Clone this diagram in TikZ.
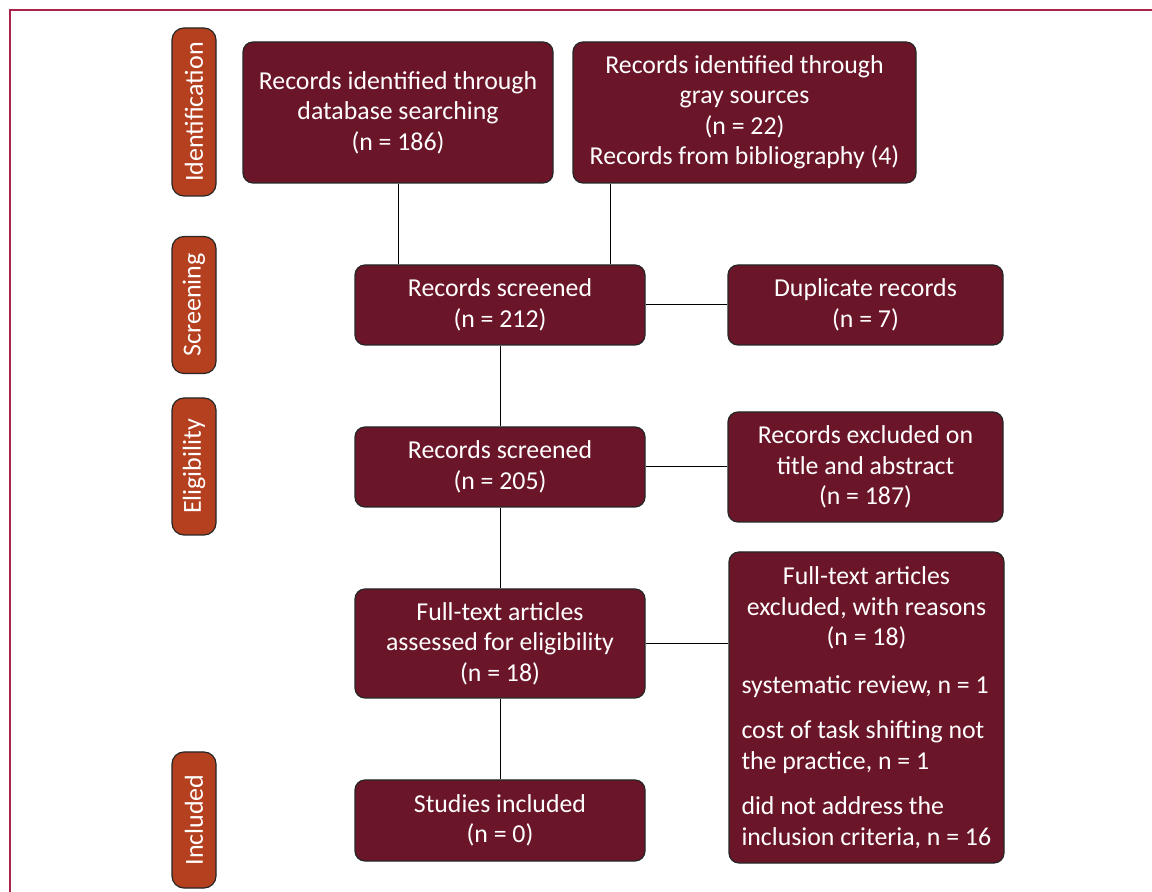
\documentclass[tikz,border=0pt]{standalone}
\usepackage{fontspec}
\setmainfont{Carlito}
\usetikzlibrary{calc}

\definecolor{boxred}{HTML}{6B1529}
\definecolor{tagred}{HTML}{B5401F}
\definecolor{framered}{HTML}{A8244A}

\tikzset{
  stagetag/.style={draw=black!85, fill=tagred, text=white, rotate=90,
    rounded corners=6pt, line width=0.6pt, minimum height=22pt, inner sep=0pt,
    font=\fontsize{13}{15.25}\selectfont},
  recbox/.style={draw=black!85, fill=boxred, text=white, align=center,
    rounded corners=5pt, line width=0.6pt, inner sep=0pt,
    font=\fontsize{12.9}{15.25}\selectfont},
  link/.style={draw=black, line width=0.5pt}
}

\begin{document}
\begin{tikzpicture}[x=0.5pt, y=-0.5pt]
  \useasboundingbox (0,0) rectangle (1152,892);
  \draw[framered, line width=1pt] (10,892) -- (10,10) -- (1152,10);

  % stage labels on the left
  \foreach \name/\y/\len/\txt in {ident/112/84/Identification, screen/305/68.5/Screening,
      elig/466.5/68.5/Eligibility, incl/820/68/Included}{
    \node[stagetag, minimum width=\len pt] (\name) at (194,\y) {\txt};
  }

  % records
  \node[recbox, minimum width=155pt, minimum height=70.5pt] (dbase) at (398,112.5)
    {Records identified through\\database searching\\(n = 186)};
  \node[recbox, minimum width=171.5pt, minimum height=70.5pt] (gray) at (744.5,112.5)
    {Records identified through\\gray sources\\(n = 22)\\Records from bibliography (4)};
  \node[recbox, minimum width=145pt, minimum height=40pt] (screened) at (500,305)
    {Records screened\\(n = 212)};
  \node[recbox, minimum width=137.5pt, minimum height=40pt] (dupl) at (865.5,305)
    {Duplicate records\\(n = 7)};
  \node[recbox, minimum width=145pt, minimum height=40pt] (screenedb) at (500,467)
    {Records screened\\(n = 205)};
  \node[recbox, minimum width=137.5pt, minimum height=55pt] (exclta) at (865.5,467)
    {Records excluded on\\title and abstract\\(n = 187)};
  \node[recbox, minimum width=145pt, minimum height=54.5pt] (fulltext) at (500,643.5)
    {Full-text articles\\assessed for eligibility\\(n = 18)};
  \node[recbox, minimum width=137.5pt, minimum height=155.5pt, text width=125pt,
    align=left] (exclft) at (866.5,707.5)
    {\spaceskip=0pt \xspaceskip=0pt
     {\centering Full-text articles\\excluded, with reasons\\(n = 18)\par}
     \raggedright
     \vspace{8.5pt}
     systematic review, n = 1\par
     \vspace{7.5pt}
     cost of task shifting not\\the practice, n = 1\par
     \vspace{7.5pt}
     did not address the\\inclusion criteria, n = 16\par};
  \node[recbox, minimum width=145pt, minimum height=40.5pt] (studies) at (500,820.5)
    {Studies included\\(n = 0)};

  % connectors
  \draw[link] (dbase.south) -- (dbase.south |- screened.north);
  \draw[link] ([xshift=-67.25pt]gray.south) -- ([xshift=-67.25pt]gray.south |- screened.north);
  \draw[link] (screened.east) -- (dupl.west);
  \draw[link] (screened.south) -- (screenedb.north);
  \draw[link] (screenedb.east) -- (exclta.west);
  \draw[link] (screenedb.south) -- (fulltext.north);
  \draw[link] (fulltext.east) -- (fulltext.east -| exclft.west);
  \draw[link] (fulltext.south) -- (studies.north);
\end{tikzpicture}
\end{document}
